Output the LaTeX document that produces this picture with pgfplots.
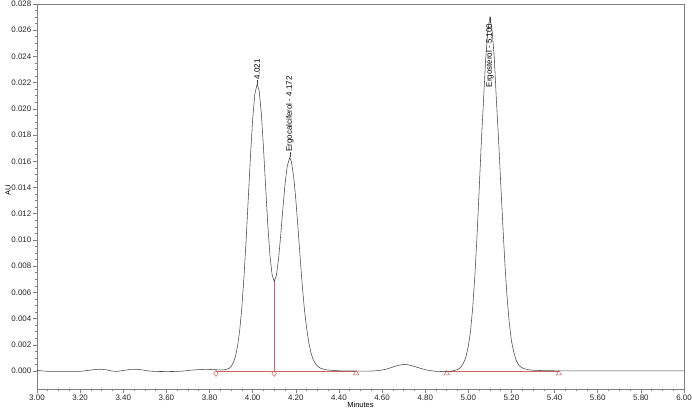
\documentclass[border=0pt]{standalone}
\usepackage{fontspec}
\setmainfont{Liberation Sans}
\usepackage{pgfplots}
\usepackage{pgfplotstable}
\pgfplotsset{compat=1.18}

\definecolor{trace}{RGB}{70,70,70}
\definecolor{basered}{RGB}{205,100,100}
\definecolor{framegray}{RGB}{128,128,128}

% chromatogram trace, AU vs minutes
\pgfplotstableread{
t au
3.00 0.00005
3.03 0.00000
3.06 -0.00003
3.10 -0.00003
3.15 -0.00003
3.20 -0.00002
3.23 0.00003
3.26 0.00010
3.29 0.00014
3.32 0.00010
3.35 0.00000
3.37 -0.00003
3.40 0.00004
3.43 0.00012
3.46 0.00014
3.49 0.00008
3.52 0.00000
3.55 -0.00003
3.60 -0.00004
3.65 -0.00003
3.68 0.00000
3.71 0.00006
3.74 0.00010
3.77 0.00012
3.80 0.00012
3.83 0.00010
3.85 0.00008
3.87 0.00010
3.88 0.00014
3.89 0.00020
3.90 0.00035
3.91 0.00063
3.92 0.00110
3.93 0.00190
3.94 0.00311
3.95 0.00489
3.96 0.00724
3.97 0.01010
3.98 0.01328
3.99 0.01646
4.00 0.01921
4.01 0.02113
4.021 0.02190
4.03 0.02140
4.04 0.01968
4.05 0.01708
4.06 0.01408
4.07 0.01119
4.08 0.00885
4.09 0.00736
4.10 0.00684
4.11 0.00729
4.12 0.00855
4.13 0.01036
4.14 0.01238
4.15 0.01424
4.16 0.01560
4.172 0.01630
4.18 0.01593
4.19 0.01484
4.20 0.01311
4.21 0.01096
4.22 0.00869
4.23 0.00652
4.24 0.00470
4.25 0.00330
4.26 0.00220
4.27 0.00140
4.28 0.00090
4.29 0.00058
4.30 0.00038
4.31 0.00026
4.32 0.00018
4.34 0.00010
4.37 0.00005
4.40 0.00002
4.45 0.00001
4.50 -0.00001
4.55 0.00000
4.58 0.00003
4.60 0.00008
4.62 0.00015
4.64 0.00025
4.66 0.00036
4.68 0.00045
4.70 0.00050
4.72 0.00048
4.74 0.00040
4.76 0.00030
4.78 0.00020
4.80 0.00010
4.82 0.00004
4.85 -0.00002
4.88 -0.00004
4.91 -0.00003
4.93 0.00002
4.95 0.00012
4.96 0.00022
4.97 0.00040
4.98 0.00070
4.99 0.00115
5.00 0.00190
5.01 0.00302
5.02 0.00478
5.03 0.00718
5.04 0.01020
5.05 0.01373
5.06 0.01740
5.07 0.02050
5.08 0.02370
5.09 0.02590
5.10 0.02700
5.11 0.02600
5.12 0.02400
5.13 0.02070
5.14 0.01770
5.15 0.01440
5.16 0.01110
5.17 0.00805
5.18 0.00556
5.19 0.00365
5.20 0.00229
5.21 0.00150
5.22 0.00090
5.23 0.00055
5.24 0.00035
5.25 0.00024
5.26 0.00017
5.28 0.00010
5.30 0.00006
5.35 0.00003
5.40 0.00002
5.50 0.00001
5.70 0.00001
6.00 0.00001
}\trace

\begin{document}
\begin{tikzpicture}
\begin{axis}[
    width=647bp, height=385bp,
    scale only axis,
    xmin=3, xmax=6,
    ymin=-0.00137, ymax=0.028,
    xtick={3,3.2,3.4,3.6,3.8,4,4.2,4.4,4.6,4.8,5,5.2,5.4,5.6,5.8,6},
    ytick={0,0.002,0.004,0.006,0.008,0.010,0.012,0.014,0.016,0.018,0.020,0.022,0.024,0.026,0.028},
    minor x tick num=3,
    minor y tick num=3,
    tick align=outside,
    tick pos=left,
    major tick length=4bp,
    minor tick length=2bp,
    axis line style={framegray, line width=0.7pt},
    every tick/.style={framegray, line width=0.6pt},
    scaled y ticks=false,
    xticklabel style={/pgf/number format/.cd, fixed, fixed zerofill, precision=2},
    yticklabel style={/pgf/number format/.cd, fixed, fixed zerofill, precision=3},
    /pgf/number format/assume math mode=true,
    tick label style={font=\fontsize{8}{9}\selectfont, inner sep=1.5bp, text=black!85},
    xlabel={Minutes},
    ylabel={AU},
    xlabel style={at={([yshift=-16bp]axis description cs:0.5,0)}, anchor=center, font=\fontsize{7.5}{8}\selectfont},
    ylabel style={at={([xshift=-29bp]axis description cs:0,0.517)}, anchor=center, font=\fontsize{7.5}{8}\selectfont},
    clip=false,
]
\coordinate (bl) at (rel axis cs:0,0);

% integration baselines and drop line
\addplot[basered, line width=0.6pt] coordinates {(3.83,0) (4.48,0)};
\addplot[basered, line width=0.6pt] coordinates {(4.90,0) (5.42,0)};
\addplot[basered, line width=0.6pt] coordinates {(4.10,0) (4.10,0.00684)};

% trace
\addplot[trace, line width=0.55pt] table[x=t, y=au] {\trace};

% peak start/end marks
\addplot[only marks, mark=diamond, mark size=3bp, basered, mark options={fill=white, line width=0.5pt}]
    coordinates {(3.83,-0.00018) (4.10,-0.00018)};
\addplot[only marks, mark=triangle, mark size=3bp, basered, mark options={fill=white, line width=0.5pt}]
    coordinates {(4.48,-0.00018) (4.90,-0.00018) (5.42,-0.00018)};

% peak labels
\draw[trace, line width=0.4pt] (axis cs:4.021,0.0219) -- ([yshift=4bp]axis cs:4.021,0.0219);
\node[rotate=90, anchor=west, inner sep=0.5bp, font=\fontsize{8}{9}\selectfont]
    at ([yshift=4bp]axis cs:4.021,0.0219) {4.021};
\draw[trace, line width=0.4pt] (axis cs:4.172,0.0163) -- ([yshift=5bp]axis cs:4.172,0.0163);
\node[rotate=90, anchor=west, inner sep=0.5bp, font=\fontsize{8}{9}\selectfont]
    at ([yshift=5bp]axis cs:4.172,0.0163) {Ergocalciferol - 4.172};
\draw[trace, line width=0.4pt] (axis cs:5.10,0.0270) -- ([yshift=-6bp]axis cs:5.10,0.0270);
\node[rotate=90, anchor=east, inner sep=0.5bp, font=\fontsize{8}{9}\selectfont]
    at ([yshift=-6bp]axis cs:5.10,0.0270) {Ergosterol - 5.100};
\end{axis}
\pgfresetboundingbox
\path[use as bounding box] ([shift={(-37bp,-21bp)}]bl) rectangle ([shift={(655bp,389bp)}]bl);
\end{tikzpicture}
\end{document}
